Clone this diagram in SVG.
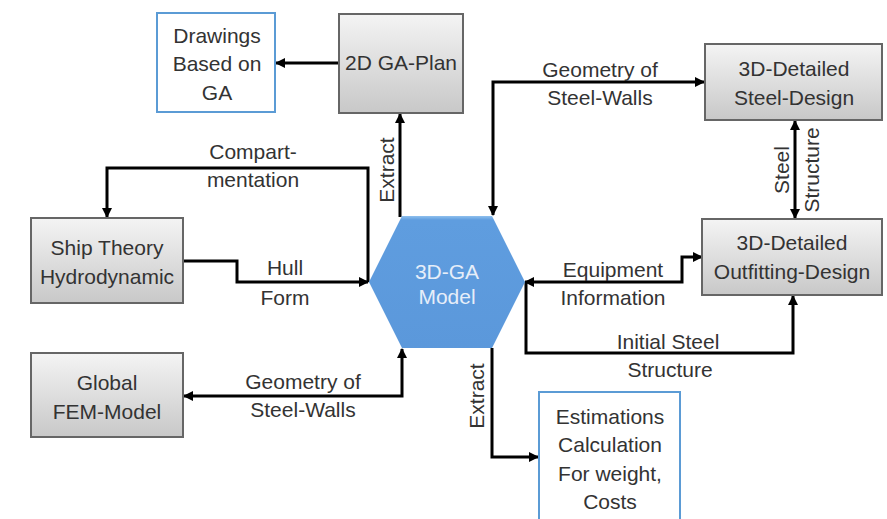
<svg xmlns="http://www.w3.org/2000/svg" width="887" height="519" viewBox="0 0 887 519">
<defs>
<linearGradient id="gray" x1="0" y1="0" x2="0" y2="1">
<stop offset="0" stop-color="#f4f4f4"/>
<stop offset="1" stop-color="#c8c8c8"/>
</linearGradient>
<linearGradient id="blue" x1="0" y1="0" x2="0" y2="1">
<stop offset="0" stop-color="#8fc0ee"/>
<stop offset="0.03" stop-color="#5f9ddf"/>
<stop offset="1" stop-color="#5b98db"/>
</linearGradient>
<marker id="ah" viewBox="0 0 10 10" refX="9" refY="5" markerWidth="10" markerHeight="10" markerUnits="userSpaceOnUse" orient="auto-start-reverse">
<path d="M0,0 L10,5 L0,10 Z" fill="#000"/>
</marker>
</defs>
<style>
.g rect{fill:url(#gray);stroke:#666;stroke-width:2}
.b rect{fill:#fff;stroke:#5b9bd5;stroke-width:2}
text{font-family:"Liberation Sans",Arial,sans-serif;font-size:21px;fill:#333;text-anchor:middle}
.w{fill:#e6eef9}
#connectors path{fill:none;stroke:#000;stroke-width:3}
</style>
<rect width="887" height="519" fill="#fff"/>
<g id="connectors">
<path d="M339,63 L276,63" marker-end="url(#ah)"/>
<path d="M400,217 L400,114" marker-end="url(#ah)"/>
<path d="M704,82 L493,82 L493,215" marker-start="url(#ah)" marker-end="url(#ah)"/>
<path d="M795,121 L795,218" marker-start="url(#ah)" marker-end="url(#ah)"/>
<path d="M368,282 L368,168 L107,168 L107,217" marker-end="url(#ah)"/>
<path d="M183,261 L237,261 L237,282 L368,282" marker-end="url(#ah)"/>
<path d="M525,282 L682,282 L682,257 L702,257" marker-start="url(#ah)" marker-end="url(#ah)"/>
<path d="M526,282 L526,353 L793,353 L793,296" marker-end="url(#ah)"/>
<path d="M402,349 L402,396 L184,396" marker-start="url(#ah)" marker-end="url(#ah)"/>
<path d="M492,348 L492,457 L538,457" marker-end="url(#ah)"/>
</g>
<g id="labels">
<text transform="translate(394,170) rotate(-90)">Extract</text>
<text transform="translate(484,396) rotate(-90)">Extract</text>
<text x="600" y="77">Geometry of</text>
<text x="600" y="105">Steel-Walls</text>
<text transform="translate(789,170) rotate(-90)">Steel</text>
<text transform="translate(819,170) rotate(-90)">Structure</text>
<text x="253" y="159">Compart-</text>
<text x="253" y="187">mentation</text>
<text x="285" y="275">Hull</text>
<text x="285" y="305">Form</text>
<text x="613" y="277">Equipment</text>
<text x="613" y="305">Information</text>
<text x="668" y="349">Initial Steel</text>
<text x="670" y="377">Structure</text>
<text x="303" y="389">Geometry of</text>
<text x="303" y="417">Steel-Walls</text>
</g>
<g id="drawings" class="b">
<rect x="157" y="13" width="118" height="99"/>
<text x="217" y="43">Drawings</text>
<text x="217" y="71">Based on</text>
<text x="217" y="100">GA</text>
</g>
<g id="plan2d" class="g">
<rect x="339" y="14" width="124" height="99"/>
<text x="401" y="70">2D GA-Plan</text>
</g>
<g id="steeldesign" class="g">
<rect x="705" y="44" width="177" height="76"/>
<text x="794" y="76">3D-Detailed</text>
<text x="794" y="105">Steel-Design</text>
</g>
<g id="outfitting" class="g">
<rect x="702" y="219" width="180" height="76"/>
<text x="792" y="250">3D-Detailed</text>
<text x="792" y="279">Outfitting-Design</text>
</g>
<g id="shiptheory" class="g">
<rect x="31" y="218" width="152" height="85"/>
<text x="107" y="255">Ship Theory</text>
<text x="107" y="284">Hydrodynamic</text>
</g>
<g id="fem" class="g">
<rect x="31" y="353" width="152" height="84"/>
<text x="107" y="390">Global</text>
<text x="107" y="419">FEM-Model</text>
</g>
<g id="gamodel">
<polygon points="402,216 492,216 525,282 492,348 402,348 369,282" fill="url(#blue)"/>
<text class="w" x="447" y="279">3D-GA</text>
<text class="w" x="447" y="304">Model</text>
</g>
<g id="estimations" class="b">
<rect x="539" y="392" width="141" height="140"/>
<text x="610" y="424">Estimations</text>
<text x="610" y="452">Calculation</text>
<text x="610" y="481">For weight,</text>
<text x="610" y="509">Costs</text>
</g>
</svg>
